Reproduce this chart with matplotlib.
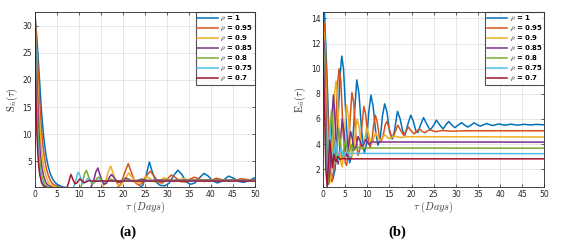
import numpy as np
import matplotlib
matplotlib.use("Agg")
import matplotlib.pyplot as plt

plt.rcParams["mathtext.fontset"] = "cm"

labels = ["1", "0.95", "0.9", "0.85", "0.8", "0.75", "0.7"]
colors = ["#0072BD", "#D95319", "#EDB120", "#7E2F8E", "#77AC30", "#4DBEEE", "#A2142F"]

# panel (a): S(tau) (tau, value)
S_rho1 = [(0, 32.3), (0.5, 27), (1, 20.5), (1.5, 14), (2, 9.3), (2.5, 6.2), (3, 4.1), (3.5, 2.7), (4, 1.8),
          (4.5, 1.2), (5, 0.8), (6, 0.4), (7, 0.2), (8, 0.1), (23.5, 0.05), (24.5, 0.6), (25.3, 2.5), (26, 4.9),
          (26.7, 3.0), (27.5, 1.2), (28.5, 0.6), (29.5, 0.5), (30.5, 1.0), (31.5, 2.4), (32.5, 3.4), (33.4, 2.6),
          (34.3, 1.3), (35.3, 0.8), (36.3, 1.0), (37.3, 1.9), (38.4, 2.8), (39.4, 2.3), (40.4, 1.4), (41.5, 1.05),
          (42.6, 1.4), (44, 2.3), (45.2, 1.9), (46.4, 1.3), (47.5, 1.15), (48.7, 1.5), (50, 2.0)]
S_rho095 = [(0, 32), (0.5, 25), (1, 17), (1.5, 10.5), (2, 6.5), (2.5, 4), (3, 2.5), (3.5, 1.5), (4, 0.9), (5, 0.4),
            (6, 0.2), (7, 0.1), (18.5, 0.05), (19.5, 0.8), (20.3, 2.7), (21.2, 4.6), (22, 2.8), (22.8, 1.1),
            (23.7, 0.6), (24.7, 1.3), (25.5, 2.5), (26.2, 3.2), (27, 2.4), (27.9, 1.3), (28.9, 1.0), (30, 1.7),
            (31, 2.5), (32, 2.0), (33, 1.3), (34.2, 1.2), (35.2, 1.7), (36.2, 2.1), (37.3, 1.8), (38.5, 1.3),
            (40, 1.5), (41.2, 1.9), (42.5, 1.65), (44, 1.4), (45.5, 1.6), (47, 1.8), (48.5, 1.65), (50, 1.55)]
S_rho09 = [(0, 31.8), (0.4, 24), (0.8, 16), (1.2, 10), (1.6, 6.3), (2, 4), (2.5, 2.3), (3, 1.3), (3.5, 0.7),
           (4.5, 0.3), (5.5, 0.1), (15.2, 0.05), (16, 1.0), (16.6, 3.0), (17.2, 4.15), (17.9, 2.5), (18.6, 0.9),
           (19.5, 0.6), (20.4, 1.6), (21.3, 2.9), (22.1, 2.1), (23, 1.1), (24, 1.1), (25.2, 2.3), (26.2, 1.8),
           (27.2, 1.2), (28.3, 1.4), (29.3, 2.0), (30.4, 1.7), (31.5, 1.3), (32.6, 1.5), (33.6, 1.85), (35, 1.6),
           (36.5, 1.45), (38, 1.65), (40, 1.6), (50, 1.6)]
S_rho085 = [(0, 31.6), (0.3, 24), (0.6, 16.5), (0.9, 10.5), (1.2, 6.5), (1.6, 3.8), (2, 2.2), (2.5, 1.1),
            (3, 0.6), (4, 0.2), (5, 0.1), (12.6, 0.05), (13.3, 1.3), (13.8, 3.0), (14.3, 3.8), (14.9, 2.2),
            (15.6, 0.8), (16.3, 1.0), (16.9, 2.1), (17.4, 2.6), (18.1, 1.9), (18.9, 1.1), (19.7, 1.3), (20.6, 1.95),
            (21.4, 1.7), (22.3, 1.3), (23.3, 1.5), (24.2, 1.75), (25.3, 1.55), (26.5, 1.45), (28, 1.6), (30, 1.55),
            (50, 1.55)]
S_rho08 = [(0, 31.4), (0.25, 23), (0.5, 15), (0.75, 9.5), (1, 6), (1.35, 3.3), (1.7, 1.8), (2.2, 0.8), (3, 0.3),
           (4, 0.1), (10.3, 0.05), (10.9, 1.4), (11.3, 2.8), (11.7, 3.35), (12.2, 2.2), (12.9, 0.9), (13.5, 1.1),
           (14.1, 1.9), (14.5, 2.1), (15.1, 1.6), (15.9, 1.2), (16.6, 1.4), (17.2, 1.75), (17.9, 1.55),
           (18.7, 1.35), (19.6, 1.5), (20.5, 1.6), (22, 1.5), (50, 1.5)]
S_rho075 = [(0, 31.2), (0.2, 22), (0.4, 14), (0.6, 9), (0.85, 5.5), (1.1, 3.2), (1.5, 1.5), (2, 0.6), (3, 0.15),
            (8.7, 0.05), (9.2, 1.2), (9.6, 2.6), (9.9, 3.0), (10.4, 2.0), (10.9, 0.9), (11.5, 1.2), (12.0, 1.9),
            (12.5, 1.6), (13.1, 1.15), (13.8, 1.3), (14.4, 1.6), (15.1, 1.45), (16, 1.35), (17, 1.45), (50, 1.45)]
S_rho07 = [(0, 31), (0.15, 21), (0.3, 14), (0.45, 10), (0.65, 6.5), (0.85, 4.2), (1.1, 2.5), (1.5, 1.1),
           (2, 0.45), (3, 0.1), (7.2, 0.05), (7.7, 1.2), (8.0, 2.2), (8.2, 2.6), (8.6, 1.7), (9.1, 0.9),
           (9.6, 1.1), (10.2, 1.8), (10.7, 1.4), (11.2, 1.1), (11.8, 1.3), (12.4, 1.5), (13, 1.4), (14, 1.35),
           (15, 1.4), (50, 1.4)]

# panel (b): E(tau)
E_rho1 = [(0, 14.5), (0.3, 14.4), (0.8, 10), (1.3, 5), (1.8, 1.8), (2.2, 1.2), (2.7, 2.0), (3.3, 5.5), (3.8, 9.3),
          (4.2, 11.0), (4.6, 10.0), (5.1, 6.5), (5.6, 3.5), (6.0, 2.5), (6.5, 3.2), (7.0, 6.0), (7.6, 9.1),
          (8.1, 8.0), (8.7, 5.0), (9.3, 3.3), (9.8, 4.0), (10.3, 6.5), (10.8, 7.9), (11.3, 7.0), (11.9, 4.9),
          (12.4, 3.9), (12.9, 4.4), (13.4, 6.2), (13.9, 7.2), (14.4, 6.6), (15.0, 5.0), (15.6, 4.4), (16.1, 5.0),
          (16.8, 6.6), (17.4, 6.0), (18.0, 5.0), (18.5, 4.7), (19.1, 5.5), (19.8, 6.3), (20.4, 5.8), (21.0, 5.0),
          (21.4, 4.9), (22.0, 5.5), (22.7, 6.1), (23.4, 5.6), (24.2, 5.1), (25.0, 5.5), (25.6, 5.9), (26.4, 5.5),
          (27.1, 5.2), (27.7, 5.5), (28.4, 5.8), (29.1, 5.5), (29.8, 5.3), (30.5, 5.5), (31.3, 5.7), (32.0, 5.5),
          (32.7, 5.35), (33.4, 5.5), (34.1, 5.68), (34.8, 5.55), (35.5, 5.42), (36.2, 5.52), (36.9, 5.63),
          (38.3, 5.47), (39.7, 5.6), (41.1, 5.5), (42.5, 5.58), (44.0, 5.5), (45.4, 5.57), (46.8, 5.52),
          (48.2, 5.56), (50, 5.53)]
E_rho095 = [(0, 13.8), (0.3, 13.5), (0.8, 9), (1.3, 3.5), (1.7, 1.2), (2.0, 1.0), (2.4, 2.0), (2.9, 6.0),
            (3.3, 9.0), (3.6, 10.0), (4.0, 9.0), (4.5, 5.0), (5.0, 2.5), (5.3, 2.3), (5.7, 3.3), (6.1, 6.0),
            (6.5, 8.1), (6.9, 7.3), (7.4, 4.6), (7.9, 3.1), (8.3, 3.6), (8.8, 5.6), (9.2, 7.0), (9.6, 6.4),
            (10.1, 4.6), (10.6, 3.7), (11.0, 4.2), (11.4, 5.5), (11.8, 6.3), (12.2, 5.8), (12.7, 4.6), (13.1, 4.2),
            (13.6, 4.7), (14.0, 5.5), (14.4, 5.8), (14.9, 5.3), (15.4, 4.6), (15.8, 4.5), (16.3, 5.0), (16.9, 5.5),
            (17.5, 5.1), (18.2, 4.7), (18.7, 5.0), (19.3, 5.35), (20.0, 5.0), (20.6, 4.8), (21.2, 5.05),
            (21.8, 5.2), (22.4, 5.0), (23.0, 4.9), (23.6, 5.05), (24.2, 5.12), (25.5, 4.98), (27, 5.08),
            (29, 5.02), (32, 5.05), (50, 5.05)]
E_rho09 = [(0, 13.2), (0.3, 12.5), (0.7, 7.5), (1.1, 2.5), (1.5, 0.9), (1.8, 1.5), (2.2, 4.5), (2.6, 8.0),
           (2.9, 9.0), (3.2, 8.0), (3.6, 4.5), (4.0, 2.5), (4.3, 2.2), (4.7, 3.5), (5.0, 5.8), (5.3, 7.1),
           (5.7, 6.2), (6.1, 4.0), (6.5, 3.0), (6.9, 3.6), (7.3, 5.0), (7.7, 6.0), (8.1, 5.4), (8.5, 4.2),
           (8.9, 3.6), (9.3, 4.1), (9.8, 5.3), (10.3, 4.8), (10.8, 4.0), (11.3, 4.3), (11.8, 4.9), (12.3, 4.6),
           (12.9, 4.25), (13.4, 4.5), (13.9, 4.75), (14.5, 4.55), (15.0, 4.42), (15.6, 4.55), (16.2, 4.62),
           (17.5, 4.52), (19, 4.58), (50, 4.56)]
E_rho085 = [(0, 12.7), (0.3, 11.5), (0.6, 6.5), (0.9, 2.0), (1.2, 0.8), (1.5, 1.8), (1.9, 5.5), (2.3, 7.9),
            (2.6, 6.5), (3.0, 3.5), (3.4, 2.4), (3.8, 3.8), (4.3, 6.0), (4.7, 5.0), (5.1, 3.3), (5.4, 3.0),
            (5.8, 4.0), (6.2, 5.0), (6.6, 4.4), (7.0, 3.5), (7.4, 3.8), (7.9, 4.6), (8.4, 4.2), (8.8, 3.8),
            (9.2, 4.0), (9.6, 4.35), (10.0, 4.15), (10.4, 3.95), (10.8, 4.1), (11.2, 4.2), (12, 4.12), (13, 4.16),
            (50, 4.15)]
E_rho08 = [(0, 12.2), (0.3, 10.5), (0.6, 4.5), (0.9, 1.2), (1.1, 0.9), (1.4, 3.0), (1.7, 5.8), (1.9, 6.7),
           (2.2, 5.0), (2.5, 3.0), (2.8, 2.4), (3.1, 3.3), (3.5, 5.2), (3.9, 4.2), (4.3, 2.9), (4.7, 3.5),
           (5.0, 4.3), (5.4, 3.7), (5.7, 3.3), (6.1, 3.6), (6.4, 3.95), (6.8, 3.6), (7.1, 3.5), (7.5, 3.7),
           (7.8, 3.75), (8.5, 3.65), (10, 3.68), (50, 3.67)]
E_rho075 = [(0, 11.7), (0.3, 8.5), (0.6, 3.0), (0.9, 0.9), (1.2, 3.0), (1.5, 5.5), (1.8, 4.0), (2.2, 2.2),
            (2.5, 3.0), (2.8, 4.3), (3.1, 3.5), (3.4, 2.7), (3.7, 3.2), (4.0, 3.7), (4.3, 3.3), (4.6, 3.0),
            (4.9, 3.25), (5.2, 3.4), (5.7, 3.22), (6.5, 3.25), (50, 3.23)]
E_rho07 = [(0, 11.5), (0.3, 7.0), (0.6, 2.0), (0.9, 0.6), (1.2, 2.5), (1.5, 4.3), (1.8, 3.2), (2.1, 2.1),
           (2.4, 3.2), (2.7, 2.7), (3.0, 2.6), (3.3, 3.0), (3.6, 2.9), (3.9, 2.75), (4.3, 2.85), (5, 2.82),
           (50, 2.82)]

S_all = [S_rho1, S_rho095, S_rho09, S_rho085, S_rho08, S_rho075, S_rho07]
E_all = [E_rho1, E_rho095, E_rho09, E_rho085, E_rho08, E_rho075, E_rho07]

fig = plt.figure(figsize=(5.64, 2.47), dpi=100)
axa = fig.add_axes([0.062, 0.243, 0.390, 0.708])
axb = fig.add_axes([0.573, 0.243, 0.392, 0.708])


def panel(ax, series, ylim, yticks, ylabel):
    for pts, c, lab in zip(series, colors, labels):
        t, y = np.array(pts).T
        ax.plot(t, y, color=c, lw=1.1, label=r"$\rho$ = " + lab)
    ax.set_xlim(0, 50)
    ax.set_ylim(*ylim)
    ax.set_xticks(np.arange(0, 51, 5))
    ax.set_yticks(yticks)
    ax.grid(True, color="#e2e2e2", lw=0.6)
    ax.set_axisbelow(True)
    ax.tick_params(direction="in", length=2.5, width=0.5, labelsize=5.5, colors="#262626",
                   top=True, right=True, pad=2)
    for s in ax.spines.values():
        s.set_color("#262626")
        s.set_linewidth(0.6)
    ax.set_xlabel(r"$\tau\ (Days)$", fontsize=7.5, color="#404040", labelpad=1)
    ax.set_ylabel(ylabel, fontsize=7.5, color="#262626", labelpad=2)
    leg = ax.legend(loc="upper right", frameon=True, fancybox=False,
                    handlelength=3.0, handletextpad=0.3, borderpad=0.25, labelspacing=0.12,
                    borderaxespad=0.0, prop={"weight": "bold", "size": 5.0})
    leg.get_frame().set_edgecolor("#262626")
    leg.get_frame().set_linewidth(0.8)
    for ln in leg.get_lines():
        ln.set_linewidth(1.1)


panel(axa, S_all, (0.3, 32.5), [5, 10, 15, 20, 25, 30], r"$\mathrm{S}_{\bar{n}}(\tau)$")
panel(axb, E_all, (0.58, 14.5), [2, 4, 6, 8, 10, 12, 14], r"$\mathrm{E}_{\bar{n}}(\tau)$")

fig.text(0.227, 0.06, "(a)", ha="center", va="center", fontsize=10.5, fontweight="bold",
         family="Liberation Serif")
fig.text(0.704, 0.06, "(b)", ha="center", va="center", fontsize=10.5, fontweight="bold",
         family="Liberation Serif")

fig.savefig("out.png", dpi=100)
